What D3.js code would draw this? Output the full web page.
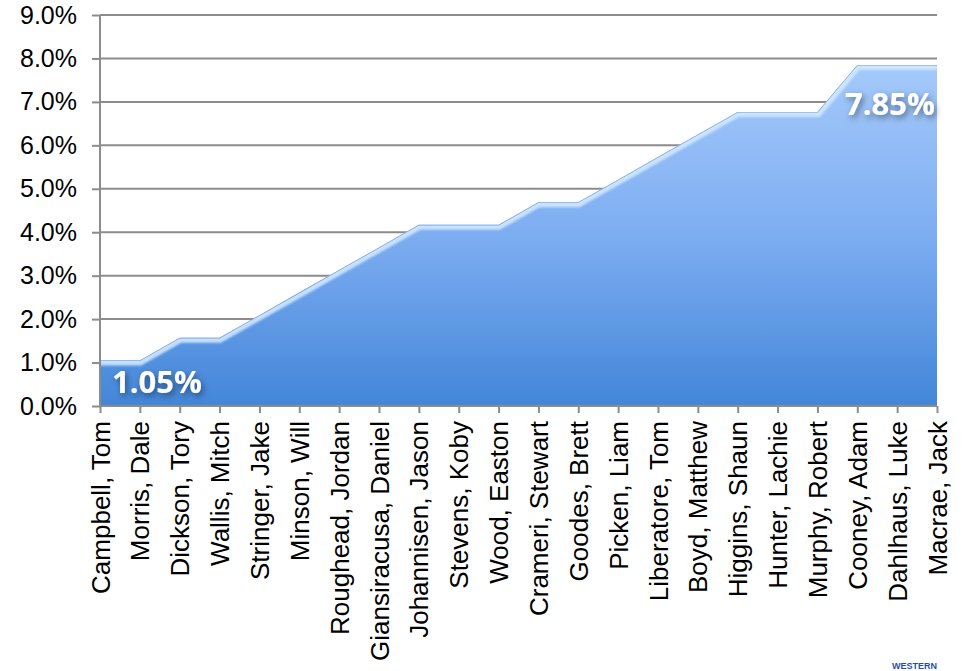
<!DOCTYPE html>
<html><head><meta charset="utf-8">
<script src="https://cdn.jsdelivr.net/npm/d3@7"></script>
<style>body{margin:0;background:#fff}svg{display:block}</style>
</head><body><svg id="c" width="965" height="671"></svg>
<script>
const categories = ["Campbell, Tom","Morris, Dale","Dickson, Tory","Wallis, Mitch","Stringer, Jake","Minson, Will","Roughead, Jordan","Giansiracusa, Daniel","Johannisen, Jason","Stevens, Koby","Wood, Easton","Crameri, Stewart","Goodes, Brett","Picken, Liam","Liberatore, Tom","Boyd, Matthew","Higgins, Shaun","Hunter, Lachie","Murphy, Robert","Cooney, Adam","Dahlhaus, Luke","Macrae, Jack"];
const values = [1.05,1.05,1.57,1.57,2.09,2.61,3.13,3.65,4.17,4.17,4.17,4.69,4.69,5.21,5.73,6.25,6.77,6.77,6.77,7.85,7.85,7.85];
const yTicks = [0,1,2,3,4,5,6,7,8,9];
const labelIdx = [0, 21];

const svg = d3.select("#c");
const L=100,R=937,T=15,B=406;
const x = d3.scalePoint().domain(categories).range([L,R]);
const y = d3.scaleLinear().domain([0,9]).range([B,T]);

const defs = svg.append("defs");
const g = defs.append("linearGradient").attr("id","fillg").attr("gradientUnits","userSpaceOnUse")
  .attr("x1",0).attr("y1",y(8)).attr("x2",0).attr("y2",B);
g.append("stop").attr("offset",0).attr("stop-color","#a6cafa");
g.append("stop").attr("offset",0.5).attr("stop-color","#7eaef2");
g.append("stop").attr("offset",1).attr("stop-color","#4386d8");
const f = defs.append("filter").attr("id","blur").attr("x","-10%").attr("y","-10%").attr("width","120%").attr("height","120%");
f.append("feGaussianBlur").attr("stdDeviation",1.2);
const ts = defs.append("filter").attr("id","tshadow").attr("x","-20%").attr("y","-40%").attr("width","150%").attr("height","200%");
ts.append("feDropShadow").attr("dx",2).attr("dy",3).attr("stdDeviation",3).attr("flood-color","#000").attr("flood-opacity",0.45);
const cp = defs.append("clipPath").attr("id","areaclip");

// gridlines
svg.append("g").selectAll("line").data(yTicks.filter(d=>d>0)).join("line")
  .attr("x1",L).attr("x2",R).attr("y1",d=>y(d)).attr("y2",d=>y(d))
  .attr("stroke","#8c8c8c").attr("stroke-width",2);

// area
const area = d3.area().x((d,i)=>x(categories[i])).y0(B).y1(d=>y(d));
const line = d3.line().x((d,i)=>x(categories[i])).y(d=>y(d));
cp.append("path").attr("d",area(values));
svg.append("path").attr("d",area(values)).attr("fill","url(#fillg)");
const ag = svg.append("g").attr("clip-path","url(#areaclip)");
ag.append("path").attr("d",line(values)).attr("fill","none").attr("stroke","#d2e8ff").attr("stroke-width",10).attr("filter","url(#blur)").attr("opacity",0.9);
ag.append("path").attr("d",line(values)).attr("fill","none").attr("stroke","#6f9fe6").attr("stroke-width",1.2);
ag.append("line").attr("x1",R).attr("x2",R).attr("y1",y(values[values.length-1])).attr("y2",B)
  .attr("stroke","#1d3f70").attr("stroke-width",3).attr("filter","url(#blur)");
ag.append("line").attr("x1",L).attr("x2",L).attr("y1",y(values[0])).attr("y2",B)
  .attr("stroke","#3570c4").attr("stroke-width",5).attr("filter","url(#blur)");
ag.append("line").attr("x1",L).attr("x2",R).attr("y1",B).attr("y2",B)
  .attr("stroke","#2d66b8").attr("stroke-width",6).attr("filter","url(#blur)");

// y axis
const ya = svg.append("g").attr("transform",`translate(${L},0)`)
  .call(d3.axisLeft(y).tickValues(yTicks).tickFormat(d=>d.toFixed(1)+"%").tickSize(8).tickPadding(15));
ya.attr("font-size",null).attr("font-family",null);
ya.select(".domain").attr("stroke","#8c8c8c").attr("stroke-width",2).attr("d",`M0,${T}V${B}`);
ya.selectAll(".tick line").attr("stroke","#8c8c8c").attr("stroke-width",2);
ya.selectAll("text").style("font-family","'Liberation Sans', Arial, sans-serif").style("font-size","25px").attr("fill","#000");

// x axis
const xa = svg.append("g").attr("transform",`translate(0,${B})`)
  .call(d3.axisBottom(x).tickSize(7).tickPadding(0));
xa.attr("font-size",null).attr("font-family",null);
xa.select(".domain").attr("stroke","#8c8c8c").attr("stroke-width",2).attr("d",`M${L},0H${R}`);
xa.selectAll(".tick line").attr("stroke","#8c8c8c").attr("stroke-width",2);
xa.selectAll("text").style("font-family","'Liberation Sans', Arial, sans-serif").style("font-size","26px").attr("fill","#000")
  .attr("transform","rotate(-90)").attr("text-anchor","end").attr("x",-15).attr("y",0).attr("dy","0.35em");

// value labels
const lbl = svg.append("g");
lbl.append("text").attr("x",x(categories[labelIdx[0]])+12).attr("y",y(values[labelIdx[0]])+33)
  .text(values[labelIdx[0]].toFixed(2)+"%");
lbl.append("text").attr("x",x(categories[labelIdx[1]])-2).attr("y",y(values[labelIdx[1]])+50).attr("text-anchor","end")
  .text(values[labelIdx[1]].toFixed(2)+"%");
lbl.selectAll("text").style("font-family","'Open Sans', Lato, sans-serif").attr("font-weight","bold").style("font-size","31px")
  .attr("fill","#fff").attr("filter","url(#tshadow)");

// logo fragment
svg.append("text").attr("x",892).attr("y",669).text("WESTERN")
  .style("font-family","'Liberation Sans', Arial, sans-serif").attr("font-weight","bold").style("font-size","9px").attr("fill","#1f4fa8");
</script></body></html>
